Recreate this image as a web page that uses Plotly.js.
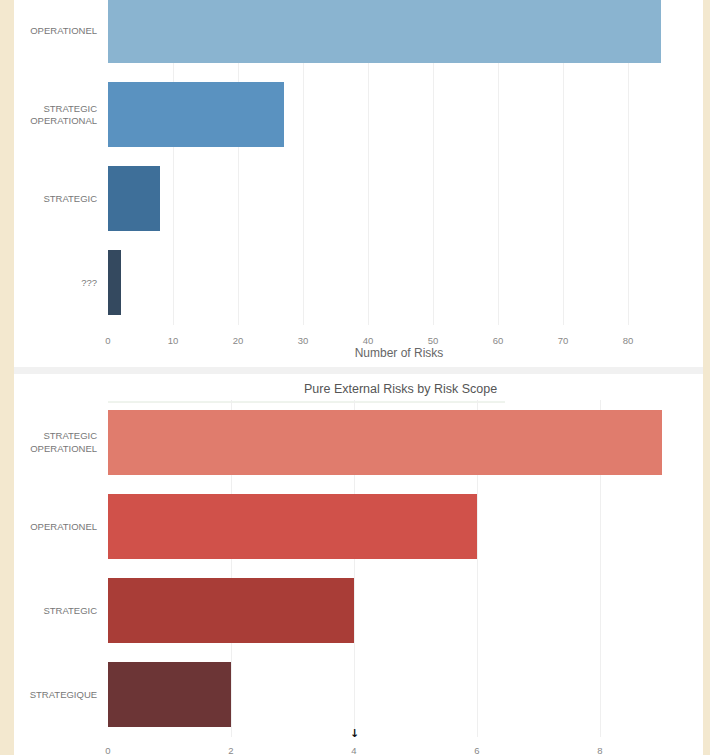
<!DOCTYPE html>
<html>
<head>
<meta charset="utf-8">
<script src="https://cdn.plot.ly/plotly-3.0.1.min.js"></script>
<style>html,body{margin:0;padding:0;background:#f3e8cf;}#chart{width:710px;height:755px;}</style>
</head>
<body>
<div id="chart"></div>
<script>
// ---- data ----
const topCategories = ["OPERATIONEL", "STRATEGIC<br>OPERATIONAL", "STRATEGIC", "???"];
const topValues = [85, 27, 8, 2];
const topTicks = [0, 10, 20, 30, 40, 50, 60, 70, 80];
const topAxisTitle = "Number of Risks";

const bottomTitle = "Pure External Risks by Risk Scope";
const bottomCategories = ["STRATEGIC<br>OPERATIONEL", "OPERATIONEL", "STRATEGIC", "STRATEGIQUE"];
const bottomValues = [9, 6, 4, 2];
const bottomTicks = [0, 2, 4, 6, 8];

// ---- styles ----
const topColors = ["#8ab4d0", "#5a92c0", "#3e6f99", "#34495f"];
const bottomColors = ["#e07c6d", "#d0514a", "#a93d37", "#6c3536"];
const W = 710, H = 755;
const py = p => 1 - p / H;
const px = p => p / W;
const font = {family: "Liberation Sans, Arial, sans-serif", size: 9, color: "#777"};

const traces = [
  {type: "bar", orientation: "h", x: topValues, y: topCategories,
   marker: {color: topColors}, width: 0.77, xaxis: "x", yaxis: "y",
   hoverinfo: "x+y"},
  {type: "bar", orientation: "h", x: bottomValues, y: bottomCategories,
   marker: {color: bottomColors}, width: 0.77, xaxis: "x2", yaxis: "y2",
   hoverinfo: "x+y"}
];

const layout = {
  width: W, height: H,
  margin: {l: 0, r: 0, t: 0, b: 0},
  paper_bgcolor: "#f3e8cf",
  plot_bgcolor: "rgba(0,0,0,0)",
  showlegend: false,
  bargap: 0,
  font: font,
  xaxis: {
    domain: [px(108), px(690)], anchor: "y",
    range: [0, (690 - 108) / 6.5],
    tickvals: topTicks, ticktext: topTicks.map(String),
    showgrid: true, gridcolor: "#efefef", zeroline: false, showline: false,
    ticks: "outside", ticklen: 7, tickcolor: "rgba(0,0,0,0)",
    tickfont: {size: 9.5, color: "#888"},
    title: {text: topAxisTitle, font: {size: 12, color: "#666"}, standoff: 0}
  },
  yaxis: {
    domain: [py(325), 1], anchor: "x",
    type: "category", categoryorder: "array", categoryarray: topCategories,
    range: [3.5, -0.36],
    showgrid: false, zeroline: false, showline: false,
    ticks: "outside", ticklen: 8, tickcolor: "rgba(0,0,0,0)",
    tickfont: {size: 9.5, color: "#777"}
  },
  xaxis2: {
    domain: [px(108), px(690)], anchor: "y2",
    range: [0, (690 - 108) / 61.5],
    tickvals: bottomTicks, ticktext: bottomTicks.map(String),
    showgrid: true, gridcolor: "#efefef", zeroline: false, showline: false,
    ticks: "outside", ticklen: 5, tickcolor: "rgba(0,0,0,0)",
    tickfont: {size: 9.5, color: "#888"}
  },
  yaxis2: {
    domain: [py(737), py(400)], anchor: "x2",
    type: "category", categoryorder: "array", categoryarray: bottomCategories,
    range: [3.5, -0.5],
    showgrid: false, zeroline: false, showline: false,
    ticks: "outside", ticklen: 8, tickcolor: "rgba(0,0,0,0)",
    tickfont: {size: 9.5, color: "#777"}
  },
  shapes: [
    {type: "rect", xref: "paper", yref: "paper", layer: "below",
     x0: px(14), x1: px(703), y0: 0, y1: 1, fillcolor: "#ffffff", line: {width: 0}},
    {type: "rect", xref: "paper", yref: "paper", layer: "below",
     x0: px(14), x1: px(703), y0: py(374), y1: py(367), fillcolor: "#f1f1f1", line: {width: 0}},
    {type: "line", xref: "paper", yref: "paper", layer: "below",
     x0: px(108), x1: px(505), y0: py(402), y1: py(402), line: {color: "#dfe8dc", width: 1}}
  ],
  annotations: [
    {text: bottomTitle, xref: "paper", yref: "paper", x: px(400), y: py(389),
     xanchor: "center", yanchor: "middle", showarrow: false,
     font: {size: 12.5, color: "#555"}},
    {text: "<b>↓</b>", xref: "paper", yref: "paper", x: px(354), y: py(733),
     xanchor: "center", yanchor: "middle", showarrow: false,
     font: {family: "DejaVu Sans", size: 11, color: "#111"}}
  ]
};

Plotly.newPlot("chart", traces, layout, {displayModeBar: false, responsive: false});
</script>
</body>
</html>
